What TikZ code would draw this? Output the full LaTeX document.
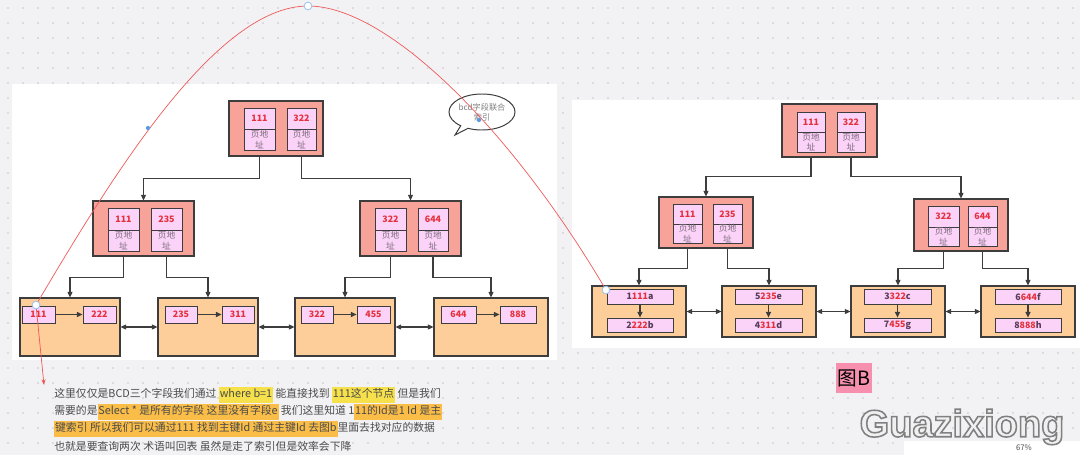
\documentclass[tikz,border=0pt]{standalone}
\usepackage{fontspec}
\setmainfont{Noto Sans CJK SC}
\newfontfamily\wmfont{Liberation Sans}
\usepackage{xcolor}
\usetikzlibrary{arrows.meta,positioning,calc,shapes.callouts}

\definecolor{canvas}{HTML}{F2F2F5}
\definecolor{dotgray}{HTML}{C6C6CC}
\definecolor{nodesalmon}{HTML}{F7A399}
\definecolor{leaforange}{HTML}{FDCE99}
\definecolor{cellpink}{HTML}{FBD3F8}
\definecolor{edgedark}{HTML}{3D3D3D}
\definecolor{keyred}{HTML}{E5303C}
\definecolor{rowdark}{HTML}{5A3A5A}
\definecolor{addrgray}{HTML}{7C6A7C}
\definecolor{curvered}{HTML}{EE5A5A}
\definecolor{handleblue}{HTML}{9CC3EC}
\definecolor{dotblue}{HTML}{5B9BE0}
\definecolor{hlyellow}{HTML}{F6E04C}
\definecolor{hlorange}{HTML}{F9BD48}
\definecolor{textgray}{HTML}{4A4A4A}
\definecolor{tagpink}{HTML}{F690AE}

% highlighted runs of the note
\newcommand\hly[1]{{\setlength\fboxsep{0.6pt}\colorbox{hlyellow}{\strut #1}}}
\newcommand\hlo[1]{{\setlength\fboxsep{0.6pt}\colorbox{hlorange}{\strut #1}}}
% row id with the key part in red
\newcommand\rid[3]{#1\textcolor{keyred}{#2}#3}
% node spanning a box given by its corners (x1,y1) (x2,y2) in pixels
\newcommand\boxnode[6]{\node[#1, minimum width={(#4-#2)*0.025cm},
  minimum height={(#5-#3)*0.025cm}] (#6) at ({(#2+#4)/2},{(#3+#5)/2})}
% key cell + page address cell below it
\newcommand\keypair[7]{%
  \boxnode{keycell}{#2}{#4}{#3}{#5}{#1k} {#7};
  \boxnode{addrcell}{#2}{#5}{#3}{#6}{#1a} {页地\\址};}
% outlined watermark text
\newcommand\outlined[1]{\special{pdf:literal direct 2 Tr 0.5 G 1.1 w}#1\special{pdf:literal direct 0 Tr 1 w}}

\begin{document}
\begin{tikzpicture}[x=0.025cm, y=-0.025cm,
  inner/.style={draw=edgedark, line width=0.8pt, fill=nodesalmon, inner sep=0pt},
  leaf/.style={draw=edgedark, line width=0.8pt, fill=leaforange, inner sep=0pt},
  keycell/.style={draw=edgedark, line width=0.6pt, fill=cellpink, inner sep=0pt,
    text=keyred, font=\fontsize{6.3}{7}\selectfont\bfseries},
  addrcell/.style={draw=edgedark, line width=0.6pt, fill=cellpink, inner sep=0pt,
    text=addrgray, align=center, font=\fontsize{6.2}{7.3}\selectfont},
  rowcell/.style={keycell, text=rowdark},
  treeedge/.style={draw=edgedark, line width=0.75pt, -{Triangle[length=4pt,width=3.6pt]}},
  leaflink/.style={draw=edgedark, line width=0.75pt,
    {Triangle[length=4pt,width=3.6pt]}-{Triangle[length=4pt,width=3.6pt]}},
  handle/.style={circle, draw=handleblue, fill=white, line width=0.6pt, inner sep=0pt, minimum size=5.5pt},
  ctrlpt/.style={circle, fill=dotblue, inner sep=0pt, minimum size=3pt},
  textline/.style={anchor=west, inner sep=0pt, text=textgray, font=\fontsize{7.7}{10}\selectfont},
  tagbox/.style={fill=tagpink, inner sep=0pt, font=\fontsize{14}{14}\selectfont},
  wmark/.style={inner sep=0pt, font=\wmfont\bfseries\fontsize{27}{27}\selectfont}
]
\useasboundingbox (0,0) rectangle (1080,455);
\fill[canvas] (0,0) rectangle (1080,455);
\foreach \i in {0,...,71}
  \foreach \j in {0,...,30}
    \fill[dotgray] (8+15*\i, 8+15*\j) circle (0.55pt);

% the two boards
\fill[white] (12,84) rectangle (557,360);
\fill[white] (572,100) rectangle (1080,348);

% ---- left tree (b,c,d index)
\boxnode{inner}{229}{101}{323}{156}{rootL} {};
\keypair{rootLp1}{244}{275}{108}{129}{150}{111}
\keypair{rootLp2}{287}{316}{108}{129}{150}{322}

\boxnode{inner}{93}{201}{194}{256}{midLL} {};
\keypair{midLLp1}{108}{139}{208}{230}{251}{111}
\keypair{midLLp2}{151}{182}{208}{230}{251}{235}
\boxnode{inner}{360}{201}{461}{256}{midLR} {};
\keypair{midLRp1}{375}{406}{208}{230}{251}{322}
\keypair{midLRp2}{418}{448}{208}{230}{251}{644}

\draw[treeedge] (rootLp1a.south |- rootL.south) -- ++(0,22) -| (midLL.north);
\draw[treeedge] (rootLp2a.south |- rootL.south) -- ++(0,22) -| (midLR.north);

\foreach \n/\xa/\xb/\ka/\kb/\va/\vb/\tk/\tv in
  {1/20/120/22/55/83/116/111/222, 2/158/258/165/197/222/254/235/311,
   3/295/395/301/333/357/390/322/455, 4/434/548/441/476/500/536/644/888} {
  \boxnode{leaf}{\xa}{298}{\xb}{356}{leafL\n} {};
  \boxnode{keycell}{\ka}{306}{\kb}{323}{lkL\n} {\tk};
  \boxnode{keycell}{\va}{306}{\vb}{323}{lvL\n} {\tv};
  \draw[treeedge] (lkL\n) -- (lvL\n);
}
\foreach \a/\b in {1/2,2/3,3/4}
  \draw[leaflink] (leafL\a.east) -- (leafL\b.west);

\draw[treeedge] (midLLp1a.south |- midLL.south) -- ++(0,21) -| (leafL1.north);
\draw[treeedge] (midLLp2a.south |- midLL.south) -- ++(0,21) -| (leafL2.north);
\draw[treeedge] (midLRp1a.south |- midLR.south) -- ++(0,21) -| (leafL3.north);
\draw[treeedge] (midLRp2a.south |- midLR.south) -- ++(0,21) -| (leafL4.north);

% ---- right tree (primary key, 图B)
\boxnode{inner}{782}{104}{877}{157}{rootR} {};
\keypair{rootRp1}{797}{825}{112}{132}{152}{111}
\keypair{rootRp2}{837}{865}{112}{132}{152}{322}

\boxnode{inner}{659}{197}{753}{248}{midRL} {};
\keypair{midRLp1}{673}{702}{204}{224}{243}{111}
\keypair{midRLp2}{713}{742}{204}{224}{243}{235}
\boxnode{inner}{914}{199}{1008}{251}{midRR} {};
\keypair{midRRp1}{928}{959}{206}{227}{246}{322}
\keypair{midRRp2}{968}{997}{206}{227}{246}{644}

\draw[treeedge] (rootRp1a.south |- rootR.south) -- ++(0,19) -| (midRL.north);
\draw[treeedge] (rootRp2a.south |- rootR.south) -- ++(0,19) -| (midRR.north);

\foreach \n/\xa/\xb/\ra/\rb/\top/\bot in
  {1/592/686/607/673/{\rid{1}{111}{a}}/{\rid{2}{222}{b}},
   2/722/816/735/802/{\rid{5}{235}{e}}/{\rid{4}{311}{d}},
   3/851/945/864/931/{\rid{3}{322}{c}}/{\rid{7}{455}{g}},
   4/981/1075/995/1061/{\rid{6}{644}{f}}/{\rid{8}{888}{h}}} {
  \boxnode{leaf}{\xa}{286}{\xb}{337}{leafR\n} {};
  \boxnode{rowcell}{\ra}{289}{\rb}{304}{rtR\n} {\top};
  \boxnode{rowcell}{\ra}{318}{\rb}{332}{rbR\n} {\bot};
  \draw[treeedge] (rtR\n) -- (rbR\n);
}
\foreach \a/\b in {1/2,2/3,3/4}
  \draw[leaflink] (leafR\a.east) -- (leafR\b.west);

\draw[treeedge] (midRLp1a.south |- midRL.south) -- ++(0,20) -| (leafR1.north);
\draw[treeedge] (midRLp2a.south |- midRL.south) -- ++(0,20) -| (leafR2.north);
\draw[treeedge] (midRRp1a.south |- midRR.south) -- ++(0,17) -| (leafR3.north);
\draw[treeedge] (midRRp2a.south |- midRR.south) -- ++(0,17) -| (leafR4.north);

% ---- note bubble and the lookup curve
\node[ellipse callout, draw=edgedark, fill=white, line width=0.7pt, inner sep=0pt,
  minimum width=1.5cm, minimum height=0.9cm, align=center, text=gray,
  font=\fontsize{5.8}{7.2}\selectfont, callout absolute pointer={(455,135)}]
  (bubble) at (482,112) {bcd字段联合\\索引};

\coordinate (cvEnd) at (606,290);
\coordinate (cvApex) at (308,6);
\coordinate (cvStart) at (36,305);
\coordinate (cvTip) at (44,385);
\draw[curvered, line width=0.5pt, -{Stealth[length=4pt,width=3pt]}]
  (cvEnd) .. controls (515,135) and (390,6) .. (cvApex)
  .. controls (215,6) and (110,180) .. (cvStart) -- (cvTip);
\node[handle] (hApex) at (cvApex) {};
\node[handle] (hStart) at (cvStart) {};
\node[handle] (hEnd) at (cvEnd) {};
\node[ctrlpt] (cpL) at (148,128) {};
\node[ctrlpt] (cpR) at (479,120) {};

% ---- explanation text
\node[textline] (ln1) at (54,395) {这里仅仅是BCD三个字段我们通过 \hly{where b=1} 能直接找到 \hly{111这个节点} 但是我们};
\node[textline] (ln2) at (54,412) {需要的是\hlo{Select * 是所有的字段 这里没有字段e} 我们这里知道 1\hlo{11的Id是1 Id 是主}};
\node[textline] (ln3) at (54,429) {\hlo{键索引 所以我们可以通过111 找到主键Id 通过主键Id 去图b}里面去找对应的数据};
\node[textline] (ln4) at (54,446) {也就是要查询两次 术语叫回表 虽然是走了索引但是效率会下降};

\boxnode{tagbox}{836}{363}{872}{393}{tagB} {图B};

% ---- toolbar and watermark
\boxnode{fill=white, inner sep=0pt}{904}{441}{1080}{455}{toolbar} {};
\node[inner sep=0pt, font=\fontsize{5.5}{6}\selectfont, text=textgray] (zoomPct) at (1024,448) {67\%};
\node[wmark, text=gray!12] (wm) at (962,427) {\outlined{Guazixiong}};
\end{tikzpicture}
\end{document}
